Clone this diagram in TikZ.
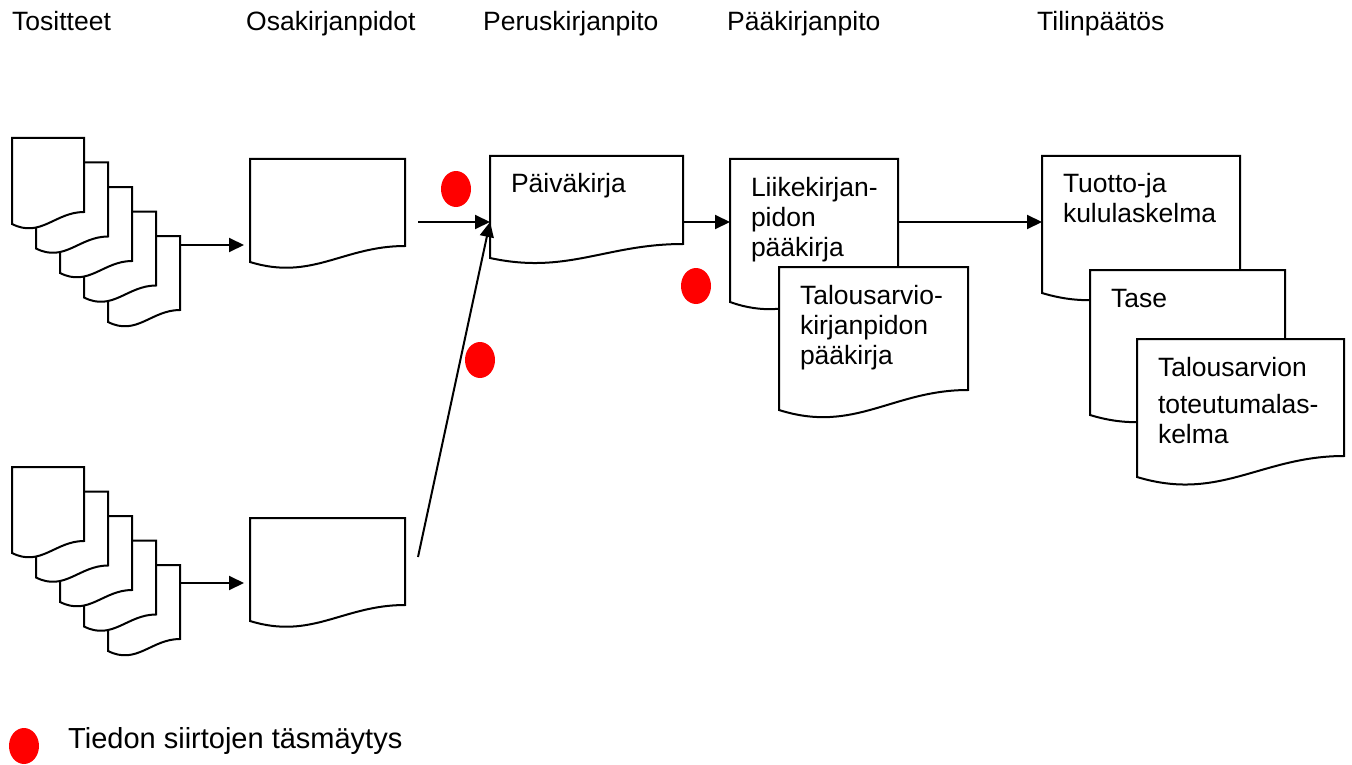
\documentclass[tikz,border=0pt]{standalone}
\usepackage{fontspec}
\setmainfont{Liberation Sans}
\usetikzlibrary{shapes.geometric,arrows.meta,calc,positioning}

\tikzset{
	docframe/.style={rectangle, anchor=north west, inner sep=0pt, outer sep=0pt},
	docline/.style={draw=black, fill=white, line width=2pt},
	doctext/.style={anchor=north west, inner xsep=21pt, inner ysep=0pt, outer sep=0pt, align=left,
		text height=37pt, text depth=0pt, font=\fontsize{26.5}{30}\selectfont},
	head/.style={anchor=base west, inner sep=0pt, font=\fontsize{26.5}{30}\selectfont},
	chk/.style={ellipse, fill=red, draw=none, minimum width=30pt, minimum height=36pt, inner sep=0pt},
	arr/.style={line width=2pt, -{Triangle[length=15pt,width=14pt]}}
}

% document sheet: name, top left, width, height, rise of the wave, text
\newcommand{\docu}[6]{%
	\node[docframe, minimum width=#3pt, minimum height=#4pt] (#1) at (#2) {};
	\draw[docline] (#1.north west) -- (#1.north east) -- ([yshift=#5pt]#1.south east)
		.. controls ($(#1.south west)!0.6!(#1.south east)+(0pt,#5pt)$)
		and ($(#1.south west)!0.4!(#1.south east)+(0pt,-1.2*#5pt)$) .. (#1.south west) -- cycle;
	\node[doctext, text width=#3pt-28pt] (#1t) at (#1.north west) {#6};
}

\begin{document}
\begin{tikzpicture}[x=1pt,y=-1pt]
	\useasboundingbox (0,0) rectangle (1352,765);

	\node[head] (h1) at (12,31) {Tositteet};
	\node[head] (h2) at (246,31) {Osakirjanpidot};
	\node[head] (h3) at (483,31) {Peruskirjanpito};
	\node[head] (h4) at (727,31) {Pääkirjanpito};
	\node[head] (h5) at (1037,31) {Tilinpäätös};

	% tositteet
	\foreach \i in {5,4,3,2,1} {
		\docu{ta\i}{{12+24*(\i-1)},{138+24.5*(\i-1)}}{72}{86}{12}{}
		\docu{tb\i}{{12+24*(\i-1)},{467+24.5*(\i-1)}}{72}{86}{12}{}
	}

	\docu{osa1}{250,159}{155}{103}{16}{}
	\docu{osa2}{250,518}{155}{103}{16}{}
	\docu{pk}{490,156}{193}{102}{14}{Päiväkirja}
	\docu{lk}{730,159}{168}{143}{20}{Liikekirjan-\\pidon\\pääkirja}
	\docu{tk}{779,267}{189}{143}{20}{Talousarvio-\\kirjanpidon\\pääkirja}
	\docu{tp}{1042,156}{198}{137}{20}{Tuotto-ja\\kululaskelma}
	\docu{ts}{1090,270}{195}{145}{20}{Tase}
	\docu{tt}{1137,339}{207}{138}{21}{Talousarvion\\[7pt]toteutumalas-\\kelma}

	\coordinate (row) at (0,222);
	\coordinate (ta-out) at ($(ta5.north east)+(0pt,-9pt)$);
	\coordinate (tb-out) at ($(tb5.north east)+(0pt,-18pt)$);
	\draw[arr, shorten >=6pt] (ta-out) -- (ta-out -| osa1.west);
	\draw[arr, shorten >=6pt] (tb-out) -- (tb-out -| osa2.west);
	\draw[arr] ($(osa1.east |- row)+(13pt,0pt)$) -- (pk.west |- row);
	\draw[arr] ($(osa2.north east)+(13pt,-39pt)$) -- (pk.west |- row);
	\draw[arr] (pk.east |- row) -- (lk.west |- row);
	\draw[arr] (lk.east |- row) -- (tp.west |- row);

	\node[chk] (chk1) at (456,189) {};
	\node[chk] (chk2) at (480,360) {};
	\node[chk] (chk3) at (696,286) {};

	\node[chk] (chk0) at (24,746) {};
	\node[head, font=\fontsize{29}{33}\selectfont] (leg) at (68,748) {Tiedon siirtojen täsmäytys};
\end{tikzpicture}
\end{document}
